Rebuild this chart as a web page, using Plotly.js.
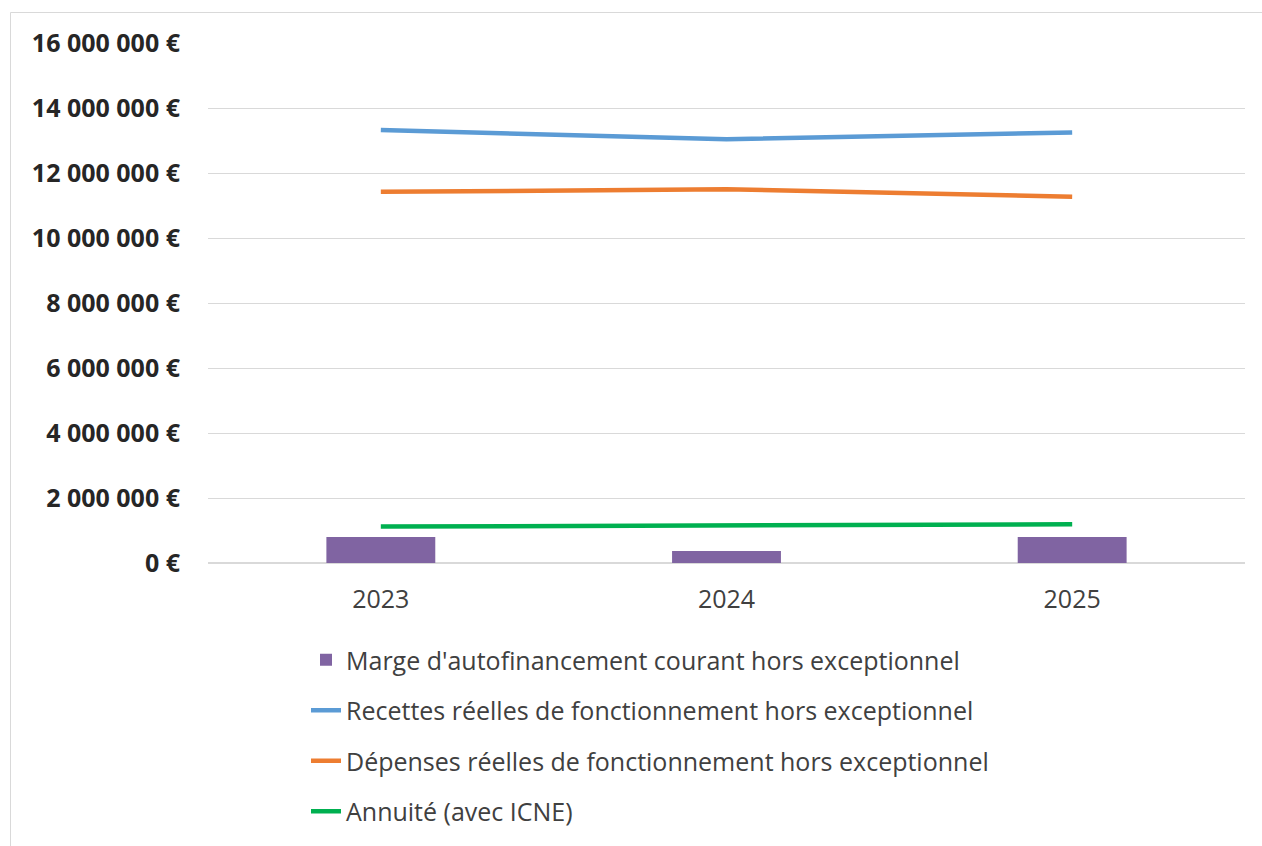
<!DOCTYPE html>
<html>
<head>
<meta charset="utf-8">
<script src="https://cdn.plot.ly/plotly-3.0.1.min.js"></script>
<style>html,body{margin:0;padding:0;background:#fff;}#chart{width:1262px;height:846px;}</style>
</head>
<body>
<div id="chart"></div>
<script>
const years = ["2023", "2024", "2025"];
const marge = [800000, 370000, 800000];
const recettes = [13320000, 13040000, 13250000];
const depenses = [11420000, 11500000, 11270000];
const annuite = [1120000, 1150000, 1190000];
const seriesNames = [
  "Marge d'autofinancement courant hors exceptionnel",
  "Recettes réelles de fonctionnement hors exceptionnel",
  "Dépenses réelles de fonctionnement hors exceptionnel",
  "Annuité (avec ICNE)"
];

const lineStyle = (c) => ({color: c, width: 4.5, shape: 'linear'});
const traces = [
  {type: 'bar', x: years, y: marge, name: seriesNames[0], marker: {color: '#8064a2'}, width: 0.315, legendgroup: 'a', hoverinfo: 'y'},
  {type: 'scatter', mode: 'lines', x: years, y: recettes, name: seriesNames[1], line: lineStyle('#5b9bd5'), legendgroup: 'b'},
  {type: 'scatter', mode: 'lines', x: years, y: depenses, name: seriesNames[2], line: lineStyle('#ed7d31'), legendgroup: 'c'},
  {type: 'scatter', mode: 'lines', x: years, y: annuite, name: seriesNames[3], line: lineStyle('#00b050'), legendgroup: 'd'}
];

const W = 1262, H = 846, L = 208, R = 17, T = 43, B = 283;
const pw = W - L - R, ph = H - T - B;
const px = (x) => (x - L) / pw;
const py = (y) => (H - B - y) / ph;

const layout = {
  width: W, height: H,
  margin: {l: L, r: R, t: T, b: B, pad: 0, autoexpand: false},
  paper_bgcolor: '#ffffff', plot_bgcolor: '#ffffff',
  separators: ', ',
  font: {family: '"Open Sans", sans-serif', color: '#404040'},
  xaxis: {
    type: 'category', showgrid: false, zeroline: false, showline: false,
    ticks: '', ticklabelstandoff: 19,
    tickfont: {size: 25, color: '#404040'},
    range: [-0.5, 2.5], fixedrange: true
  },
  yaxis: {
    range: [0, 16000000], dtick: 2000000, tick0: 0,
    tickformat: ',.0f', ticksuffix: ' €',
    showgrid: true, gridcolor: '#d9d9d9', gridwidth: 1,
    zeroline: true, zerolinecolor: '#d9d9d9', zerolinewidth: 1.5,
    showline: false, ticks: '', ticklabelstandoff: 27,
    tickfont: {size: 25, color: '#262626', family: '"Open Sans", sans-serif', weight: 'bold'},
    fixedrange: true
  },
  showlegend: true,
  legend: {
    orientation: 'v', traceorder: 'grouped',
    x: px(306), xanchor: 'left', y: py(637), yanchor: 'top',
    font: {size: 25, color: '#404040'},
    tracegroupgap: 15, itemwidth: 30,
    bgcolor: 'rgba(0,0,0,0)'
  },
  shapes: [
    {type: 'rect', xref: 'paper', yref: 'paper', x0: px(10.5), x1: px(1270), y0: py(860), y1: py(12.5),
     line: {color: '#d9d9d9', width: 1}, fillcolor: 'rgba(0,0,0,0)', layer: 'below'}
  ],
  bargap: 0.685
};

Plotly.newPlot('chart', traces, layout, {displayModeBar: false, staticPlot: true});
</script>
</body>
</html>
